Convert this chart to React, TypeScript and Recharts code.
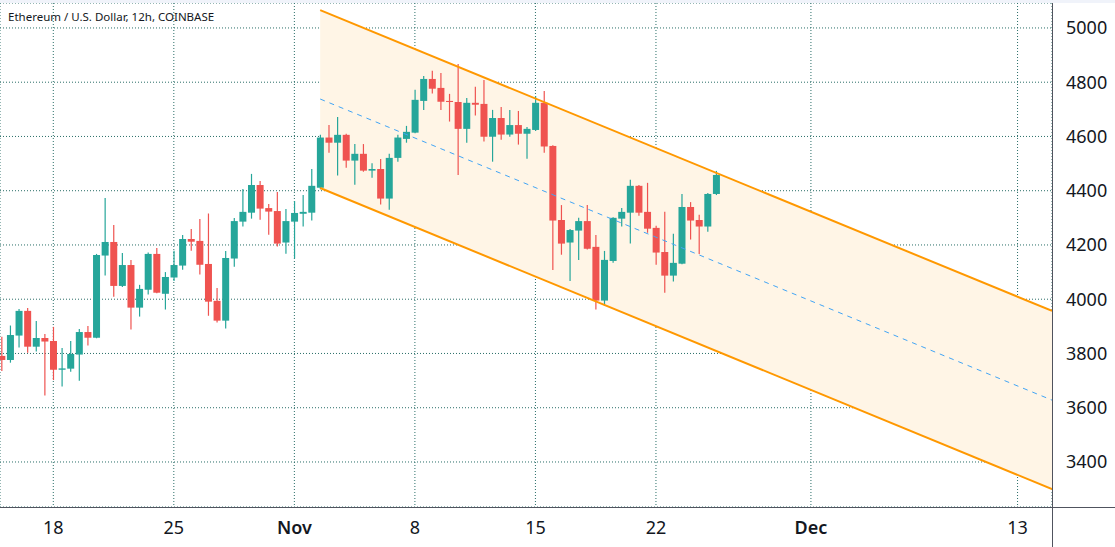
import React from "react";
import {
  ComposedChart,
  Bar,
  Line,
  Area,
  XAxis,
  YAxis,
  CartesianGrid,
} from "recharts";

// 12h candles, t = half-day index counted from Oct 18 00:00
const FIRST_T = -6;
const OPEN = [
  3791, 3776, 3866, 3957, 3825, 3857, 3846, 3740, 3744, 3796, 3879, 3858, 4161, 4211,
  4049, 4126, 3969, 4035, 4167, 4020, 4080, 4124, 4222, 4215, 4130, 3994, 3921, 4150,
  4286, 4319, 4421, 4336, 4325, 4209, 4286, 4315, 4319, 4411, 4596, 4577, 4606, 4511,
  4536, 4474, 4480, 4371, 4521, 4591, 4614, 4731, 4812, 4779, 4731, 4727, 4628, 4724,
  4720, 4599, 4668, 4607, 4642, 4610, 4624, 4724, 4565, 4292, 4209, 4253, 4288, 4193,
  3995, 4141, 4297, 4319, 4418, 4322, 4263, 4174, 4087, 4131, 4340, 4292, 4268, 4388,
];
const HIGH = [
  3862, 3903, 3964, 3968, 3920, 3872, 3898, 3820, 3846, 3890, 3901, 4167, 4373, 4274,
  4170, 4145, 4053, 4172, 4189, 4100, 4179, 4237, 4259, 4296, 4316, 4041, 4178, 4299,
  4406, 4462, 4436, 4351, 4395, 4333, 4362, 4384, 4480, 4606, 4642, 4672, 4610, 4572,
  4572, 4501, 4517, 4536, 4606, 4639, 4772, 4823, 4842, 4834, 4757, 4867, 4742, 4783,
  4808, 4698, 4709, 4698, 4694, 4635, 4749, 4768, 4568, 4347, 4259, 4300, 4347, 4237,
  4178, 4302, 4336, 4440, 4421, 4429, 4271, 4322, 4241, 4388, 4358, 4311, 4392, 4473,
];
const LOW = [
  3735, 3766, 3822, 3803, 3807, 3645, 3702, 3678, 3733, 3699, 3829, 3856, 4087, 4009,
  4045, 3888, 3936, 4017, 4022, 3962, 4067, 4109, 4179, 4091, 3939, 3914, 3892, 4120,
  4268, 4297, 4293, 4238, 4194, 4168, 4150, 4268, 4290, 4405, 4540, 4456, 4485, 4422,
  4470, 4448, 4349, 4330, 4507, 4577, 4612, 4698, 4758, 4698, 4655, 4458, 4577, 4677,
  4581, 4507, 4588, 4599, 4570, 4518, 4620, 4540, 4108, 4164, 4067, 4145, 4183, 3962,
  3976, 4134, 4268, 4205, 4308, 4245, 4127, 4024, 4065, 4129, 4220, 4167, 4249, 4384,
];
const CLOSE = [
  3776, 3868, 3957, 3825, 3857, 3844, 3740, 3745, 3798, 3879, 3858, 4163, 4211, 4049,
  4126, 3969, 4038, 4167, 4024, 4082, 4126, 4222, 4212, 4127, 3991, 3921, 4152, 4288,
  4322, 4421, 4334, 4323, 4205, 4288, 4318, 4322, 4418, 4596, 4577, 4606, 4511, 4536,
  4474, 4480, 4371, 4521, 4596, 4617, 4735, 4812, 4776, 4728, 4727, 4628, 4724, 4717,
  4599, 4668, 4607, 4642, 4610, 4628, 4724, 4563, 4290, 4205, 4255, 4288, 4186, 3995,
  4145, 4300, 4322, 4418, 4319, 4260, 4172, 4087, 4134, 4340, 4290, 4268, 4388, 4458,
];

// descending channel drawn on the chart
const CHANNEL_T = [31, 116];
const CHANNEL_UPPER = [5066, 3957];
const CHANNEL_MID = [4738, 3628];
const CHANNEL_LOWER = [4410, 3300];

const X_TICKS = [0, 14, 28, 42, 56, 70, 88, 112];
const X_LABELS = ["18", "25", "Nov", "8", "15", "22", "Dec", "13"];
const Y_TICKS = [3400, 3600, 3800, 4000, 4200, 4400, 4600, 4800, 5000];

const UP = "#26a69a";
const DOWN = "#ef5350";
const ORANGE = "#ff9800";
const TEXT = "#131722";
const FONT = "'Noto Sans', sans-serif";

type Row = {
  t: number;
  open?: number;
  high?: number;
  low?: number;
  close?: number;
  up?: number;
  mid?: number;
  lo?: number;
};

const rows: Row[] = OPEN.map((o, i) => ({
  t: FIRST_T + i,
  open: o,
  high: HIGH[i],
  low: LOW[i],
  close: CLOSE[i],
}));
CHANNEL_T.forEach((t, j) => {
  let row = rows.find((r) => r.t === t);
  if (!row) {
    row = { t };
    rows.push(row);
  }
  row.up = CHANNEL_UPPER[j];
  row.mid = CHANNEL_MID[j];
  row.lo = CHANNEL_LOWER[j];
});
rows.sort((a, b) => a.t - b.t);

function Candle(props: any) {
  const { x, y, width, height, payload } = props;
  if (!payload || payload.open == null || height == null) return null;
  const { open, close, high, low } = payload;
  const k = high === low ? 0 : height / (high - low);
  const top = y + (high - Math.max(open, close)) * k;
  const bot = y + (high - Math.min(open, close)) * k;
  const color = close >= open ? UP : DOWN;
  const cx = x + width / 2;
  return (
    <g>
      <line x1={cx} x2={cx} y1={y} y2={y + height} stroke={color} strokeWidth={1.2} />
      <rect x={x} y={top} width={width} height={Math.max(1, bot - top)} fill={color} />
    </g>
  );
}

function XTick(props: any) {
  const { x, payload } = props;
  const i = X_TICKS.indexOf(payload.value);
  const label = X_LABELS[i] ?? "";
  const bold = label === "Nov" || label === "Dec";
  return (
    <text
      x={x}
      y={534}
      textAnchor="middle"
      fontFamily={FONT}
      fontSize={18}
      fontWeight={bold ? 600 : 400}
      fill={TEXT}
    >
      {label}
    </text>
  );
}

function YTick(props: any) {
  const { y, payload } = props;
  return (
    <text x={1066} y={y} dy="0.36em" textAnchor="start" fontFamily={FONT} fontSize={18} fill={TEXT}>
      {payload.value}
    </text>
  );
}

export default function App() {
  return (
    <div
      style={{
        position: "fixed",
        left: 0,
        top: 0,
        width: 1115,
        height: 547,
        background: "#fff",
        overflow: "hidden",
      }}
    >
      <ComposedChart
        width={1115}
        height={547}
        data={rows}
        margin={{ top: 3, right: 0, left: 0, bottom: 0 }}
      >
        <CartesianGrid stroke="#2a6e68" strokeDasharray="1 2" />
        <XAxis
          dataKey="t"
          type="number"
          domain={[-6.19, 116]}
          allowDataOverflow
          ticks={X_TICKS}
          interval={0}
          height={40}
          axisLine={false}
          tickLine={false}
          tick={<XTick />}
        />
        <YAxis
          orientation="right"
          type="number"
          domain={[3234, 5092]}
          allowDataOverflow
          ticks={Y_TICKS}
          interval={0}
          width={63}
          axisLine={false}
          tickLine={false}
          tick={<YTick />}
        />
        <Area
          dataKey={(d: Row) => (d.up != null ? [d.lo, d.up] : null)}
          stroke="none"
          fill="#fff5e6"
          fillOpacity={1}
          connectNulls
          dot={false}
          activeDot={false}
          isAnimationActive={false}
        />
        <Bar
          dataKey={(d: Row) => (d.open != null ? [d.low, d.high] : null)}
          barSize={7}
          shape={<Candle />}
          isAnimationActive={false}
        />
        <Line
          dataKey="mid"
          stroke="#42a5f5"
          strokeWidth={1}
          strokeDasharray="5 5"
          dot={false}
          activeDot={false}
          connectNulls
          isAnimationActive={false}
        />
        <Line
          dataKey="up"
          stroke={ORANGE}
          strokeWidth={2}
          dot={false}
          activeDot={false}
          connectNulls
          isAnimationActive={false}
        />
        <Line
          dataKey="lo"
          stroke={ORANGE}
          strokeWidth={2}
          dot={false}
          activeDot={false}
          connectNulls
          isAnimationActive={false}
        />
      </ComposedChart>
      <div style={{ position: "absolute", left: 0, top: 0, width: 1115, height: 3, background: "#f0f3fa" }} />
      <div style={{ position: "absolute", left: 0, top: 507, width: 1115, height: 1, background: "#50535e" }} />
      <div style={{ position: "absolute", left: 1052, top: 3, width: 1, height: 544, background: "#50535e" }} />
      <div
        style={{
          position: "absolute",
          left: 8,
          top: 11,
          fontFamily: FONT,
          fontSize: 11.5,
          lineHeight: 1,
          color: TEXT,
          whiteSpace: "nowrap",
        }}
      >
        Ethereum / U.S. Dollar, 12h, COINBASE
      </div>
    </div>
  );
}
